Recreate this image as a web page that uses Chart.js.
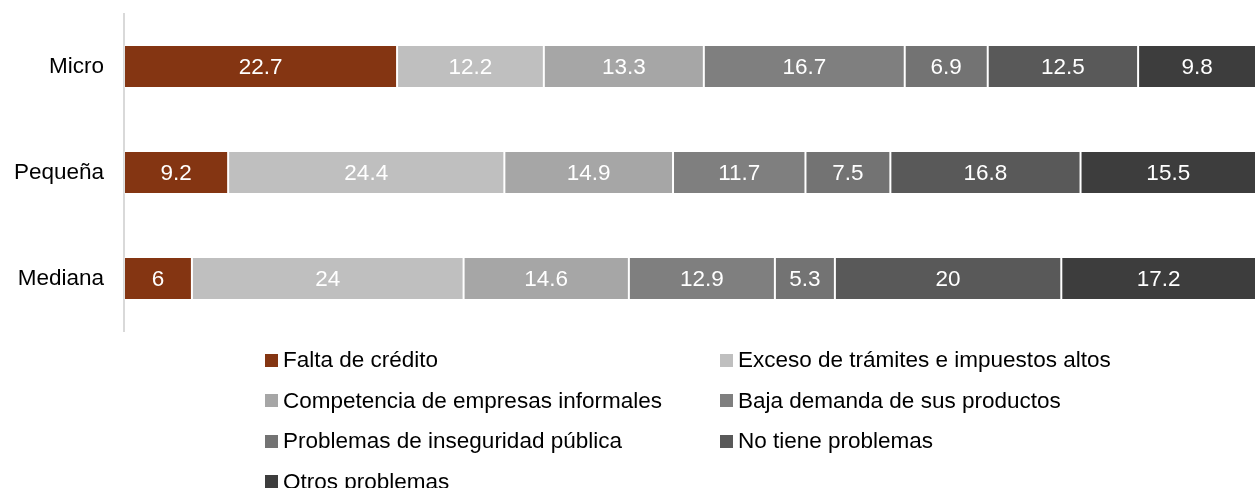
<!DOCTYPE html>
<html>
<head>
<meta charset="utf-8">
<script src="https://cdn.jsdelivr.net/npm/chart.js@4/dist/chart.umd.min.js"></script>
<style>
  html, body { margin: 0; padding: 0; background: #fff; overflow: hidden; }
  body { width: 1256px; height: 488px; position: relative; font-family: "Liberation Sans", Arial, sans-serif; }
  #wrap { position: absolute; left: 0; top: -20px; width: 1256px; height: 385px; }
  #legend { position: absolute; left: 265px; top: 340px; display: grid; grid-template-columns: 455px 500px; row-gap: 0; }
  .item { display: flex; align-items: center; height: 40.5px; font-size: 22.5px; color: #000; white-space: nowrap; }
  .box { width: 13px; height: 13px; margin-right: 5px; }
</style>
</head>
<body>
<div id="wrap"><canvas id="chart"></canvas></div>
<div id="legend"></div>
<script>
const categories = ["Micro", "Pequeña", "Mediana"];
const seriesNames = [
  "Falta de crédito",
  "Exceso de trámites e impuestos altos",
  "Competencia de empresas informales",
  "Baja demanda de sus productos",
  "Problemas de inseguridad pública",
  "No tiene problemas",
  "Otros problemas"
];
const faltaCredito = [22.7, 9.2, 6];
const excesoTramites = [12.2, 24.4, 24];
const competencia = [13.3, 14.9, 14.6];
const bajaDemanda = [16.7, 11.7, 12.9];
const inseguridad = [6.9, 7.5, 5.3];
const noProblemas = [12.5, 16.8, 20];
const otros = [9.8, 15.5, 17.2];
const colors = ["#843512", "#BFBFBF", "#A6A6A6", "#7F7F7F", "#737373", "#595959", "#3D3D3D"];

const raw = [faltaCredito, excesoTramites, competencia, bajaDemanda, inseguridad, noProblemas, otros];
// totals per row, bars are drawn as 100% stacked
const totals = categories.map((c, i) => raw.reduce((s, arr) => s + arr[i], 0));

const datasets = raw.map((arr, k) => ({
  label: seriesNames[k],
  data: arr.map((v, i) => v / totals[i] * 100),
  raw: arr,
  backgroundColor: colors[k],
  borderColor: "rgba(255,255,255,0.25)",
  borderWidth: 1,
  borderSkipped: false,
  categoryPercentage: 1,
  barPercentage: 0.405
}));

// white value labels in the middle of each segment
const valueLabels = {
  id: "valueLabels",
  afterDatasetsDraw(chart) {
    const ctx = chart.ctx;
    ctx.save();
    ctx.font = '22.5px "Liberation Sans", Arial, sans-serif';
    ctx.fillStyle = "#ffffff";
    ctx.textAlign = "center";
    ctx.textBaseline = "middle";
    chart.data.datasets.forEach((ds, k) => {
      chart.getDatasetMeta(k).data.forEach((bar, i) => {
        const x = (bar.x + bar.base) / 2;
        ctx.fillText(String(ds.raw[i]), x, bar.y + 1);
      });
    });
    ctx.restore();
  }
};

new Chart(document.getElementById("chart"), {
  type: "bar",
  data: { labels: categories, datasets: datasets },
  options: {
    indexAxis: "y",
    responsive: true,
    maintainAspectRatio: false,
    animation: false,
    layout: { padding: 0 },
    plugins: {
      legend: { display: false },
      tooltip: { enabled: false }
    },
    scales: {
      x: {
        stacked: true,
        min: 0,
        max: 100,
        display: false
      },
      y: {
        stacked: true,
        grid: { display: false, drawTicks: false },
        border: { display: true, color: "#D9D9D9", width: 2 },
        ticks: {
          color: "#000000",
          padding: 20,
          font: { size: 22.5, family: '"Liberation Sans", Arial, sans-serif' }
        },
        afterFit: function (scale) {
          scale.width = 124;
        }
      }
    }
  },
  plugins: [valueLabels]
});

// legend in two columns
const legendEl = document.getElementById("legend");
seriesNames.forEach((name, k) => {
  const item = document.createElement("div");
  item.className = "item";
  item.innerHTML = '<span class="box" style="background:' + colors[k] + '"></span>' + name;
  legendEl.appendChild(item);
});
</script>
</body>
</html>
